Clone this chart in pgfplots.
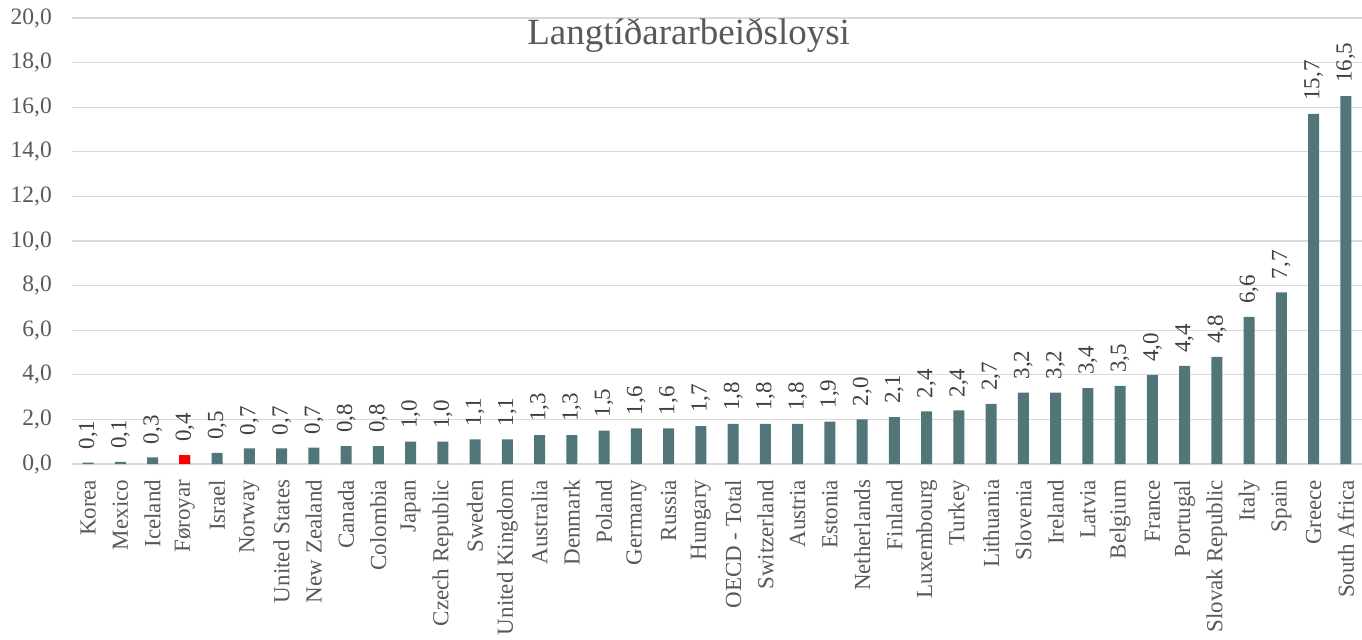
\documentclass[border=0pt]{standalone}
\usepackage{pgfplots}
\pgfplotsset{compat=1.18}
\usepackage{fontspec}
\setmainfont{Liberation Serif}
\definecolor{barc}{HTML}{517679}
\definecolor{txt}{HTML}{595959}
\definecolor{gridc}{HTML}{D9D9D9}
\definecolor{lbl}{HTML}{404040}
\begin{document}
\begin{tikzpicture}
\begin{axis}[
 scale only axis, width=1290pt, height=446pt,
 xmin=-0.5, xmax=39.5, ymin=0, ymax=20,
 ytick={0,2,...,20},
 yticklabels={0,0,2,0,4,0,6,0,8,0,10,0,12,0,14,0,16,0,18,0,20,0},
 yticklabels={{0,0},{2,0},{4,0},{6,0},{8,0},{10,0},{12,0},{14,0},{16,0},{18,0},{20,0}},
 xtick={0,...,39},
 xticklabels={Korea,Mexico,Iceland,Føroyar,Israel,Norway,United States,New Zealand,Canada,Colombia,Japan,Czech Republic,Sweden,United Kingdom,Australia,Denmark,Poland,Germany,Russia,Hungary,OECD - Total,Switzerland,Austria,Estonia,Netherlands,Finland,Luxembourg,Turkey,Lithuania,Slovenia,Ireland,Latvia,Belgium,France,Portugal,Slovak Republic,Italy,Spain,Greece,South Africa},
 axis line style={draw=none},
 tick style={draw=none},
 ymajorgrids, grid style={gridc, line width=1.3pt},
 /pgf/number format/.cd, fixed, fixed zerofill, precision=1, use comma, assume math mode=true, /pgfplots/.cd,
 yticklabel style={font=\fontsize{23.5}{26}\selectfont, color=txt, anchor=east, inner sep=0pt, xshift=-20pt},
 xticklabel style={font=\fontsize{23}{26}\selectfont, color=txt, yshift=-8pt, rotate=90, anchor=east},
 ybar, bar width=11pt,
 every node near coord/.append style={rotate=90, anchor=west, font=\fontsize{23}{26}\selectfont, color=lbl, inner xsep=13pt, inner ysep=0pt},
 clip=false,
]
\addplot[fill=barc, draw=none, bar shift=0pt, nodes near coords] coordinates {
(0,0.06) (1,0.1) (2,0.3) (3,0.4) (4,0.5) (5,0.7) (6,0.7) (7,0.74) (8,0.8) (9,0.8)
(10,1.0) (11,1.0) (12,1.1) (13,1.1) (14,1.3) (15,1.3) (16,1.5) (17,1.6) (18,1.6) (19,1.7)
(20,1.8) (21,1.8) (22,1.8) (23,1.9) (24,2.0) (25,2.1) (26,2.36) (27,2.4) (28,2.7) (29,3.2)
(30,3.2) (31,3.4) (32,3.5) (33,4.0) (34,4.4) (35,4.8) (36,6.6) (37,7.7) (38,15.7) (39,16.5)
};
\addplot[fill=red, draw=none, bar shift=0pt] coordinates {(3,0.4)};
\node[font=\fontsize{37}{42}\selectfont, color=txt] at (rel axis cs:0.478,0.96) {Langtíðararbeiðsloysi};
\end{axis}
\pgfresetboundingbox
\useasboundingbox ([xshift=-72pt,yshift=-175pt]current axis.south west) rectangle ([yshift=18pt]current axis.north east);
\end{tikzpicture}
\end{document}
